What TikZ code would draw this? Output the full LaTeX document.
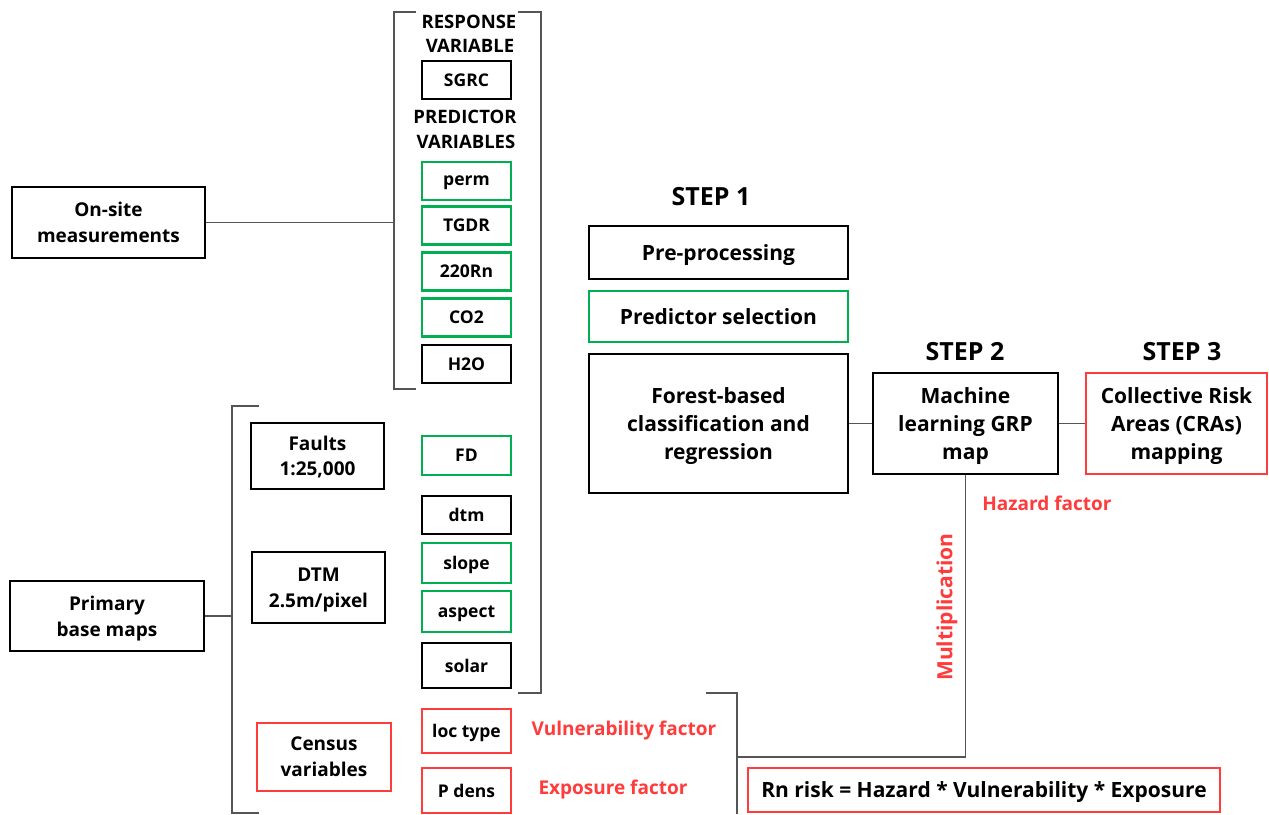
\documentclass[tikz,border=0pt]{standalone}
\usepackage{fontspec}
\setmainfont{Open Sans}
\definecolor{bgreen}{HTML}{00B050}
\definecolor{bred}{HTML}{FF3B3B}
\definecolor{lgray}{HTML}{555555}
\begin{document}
\begin{tikzpicture}[x=1pt,y=-1pt,
  every node/.style={font=\bfseries},
  box/.style={draw=black,line width=2.8pt,inner sep=0pt,align=center,text depth=0pt},
  gbox/.style={draw=bgreen,line width=2.4pt,inner sep=0pt,align=center,text depth=0pt},
  rbox/.style={draw=bred,line width=2pt,inner sep=0pt,align=center,text depth=0pt},
  small/.style={font=\bfseries\fontsize{17.5}{24}\selectfont},
  head/.style={font=\bfseries\fontsize{18.5}{24}\selectfont},
  mid/.style={font=\bfseries\fontsize{19}{26}\selectfont},
  big/.style={font=\bfseries\fontsize{21}{28}\selectfont},
  steptxt/.style={font=\bfseries\fontsize{25}{28}\selectfont},
  redtxt/.style={text=bred,font=\bfseries\fontsize{19}{22}\selectfont},
  conn/.style={draw=lgray,line width=1.1pt},
  vbox/.style={minimum width=89pt}
]
\useasboundingbox (0,0) rectangle (1269,814);
% left boxes
\node[box,mid,minimum width=193pt,minimum height=71pt] (onsite) at (108.5,222.5) {On-site\\measurements};
\node[box,mid,minimum width=194pt,minimum height=70pt] (primary) at (107,616) {Primary\\base maps};
% headings
\node[head] (resp1) at (469,22) {RESPONSE};
\node[head] (resp2) at (470,46) {VARIABLE};
\node[head] (pred1) at (465,117) {PREDICTOR};
\node[head] (pred2) at (466,142) {VARIABLES};
% variable boxes
\node[box,small,vbox,minimum height=38pt,line width=2.2pt] (sgrc) at (466.5,80) {SGRC};
\node[gbox,small,vbox,minimum height=38pt] (perm) at (466.5,181) {perm};
\node[gbox,small,vbox,minimum height=38pt] (tgdr) at (466.5,225.5) {TGDR};
\node[gbox,small,vbox,minimum height=38pt] (rn220) at (466.5,271.5) {220Rn};
\node[gbox,small,vbox,minimum height=38pt] (co2) at (466.5,317.5) {CO2};
\node[box,small,vbox,minimum height=38pt,line width=2.2pt] (h2o) at (466.5,364) {H2O};
\node[gbox,small,vbox,minimum height=39pt] (fd) at (466.5,455.5) {FD};
\node[box,small,vbox,minimum height=38pt,line width=2.2pt] (dtm) at (466.5,515) {dtm};
\node[gbox,small,vbox,minimum height=40pt] (slope) at (466.5,563) {slope};
\node[gbox,small,vbox,minimum height=41pt] (aspect) at (466.5,611.5) {aspect};
\node[box,small,vbox,minimum height=45pt,line width=2.2pt] (solar) at (466.5,665.5) {solar};
\node[rbox,small,vbox,minimum height=44pt,line width=2.4pt] (loctype) at (466.5,731) {loc type};
\node[rbox,small,vbox,minimum height=45pt,line width=2.4pt] (pdens) at (466.5,790.5) {P dens};
% base map boxes
\node[box,mid,minimum width=133pt,minimum height=66pt,line width=2.4pt,font=\bfseries\fontsize{19}{25}\selectfont] (faults) at (317.5,456) {Faults\\1:25,000};
\node[box,mid,minimum width=133pt,minimum height=71pt,line width=2.4pt] (dtmbox) at (318.5,587.5) {DTM\\2.5m/pixel};
\node[rbox,mid,minimum width=134pt,minimum height=68pt,line width=1.6pt] (census) at (324,757) {Census\\variables};
% factor labels
\node[redtxt] (vuln) at (624,731) {Vulnerability factor};
\node[redtxt] (expo) at (613,790) {Exposure factor};
\node[redtxt] (haz) at (1047,503) {Hazard factor};
\node[redtxt,rotate=90,font=\bfseries\fontsize{21}{22}\selectfont] (mult) at (947,607) {Multiplication};
% steps
\node[steptxt] (s1) at (711,197) {STEP 1};
\node[steptxt] (s2) at (965,352) {STEP 2};
\node[steptxt] (s3) at (1182,352) {STEP 3};
\node[box,big,minimum width=259pt,minimum height=53pt] (pre) at (718.5,252.5) {Pre-processing};
\node[gbox,big,minimum width=259pt,minimum height=51pt] (predsel) at (718.5,316.5) {Predictor selection};
\node[box,big,minimum width=259pt,minimum height=139pt] (forest) at (718.5,423.5) {Forest-based\\classification and\\regression};
\node[box,big,minimum width=185pt,minimum height=101pt] (grp) at (965.5,423.5) {Machine\\learning GRP\\map};
\node[rbox,big,minimum width=181pt,minimum height=101pt,line width=2.4pt] (cra) at (1176.5,423.5) {Collective Risk\\Areas (CRAs)\\mapping};
\node[rbox,big,minimum width=472pt,minimum height=44pt,line width=2.6pt] (rn) at (984,790) {Rn risk = Hazard * Vulnerability * Exposure};
% brackets
\coordinate (b1a) at (416,12); \coordinate (b1b) at (394,12);
\coordinate (b1c) at (394,389); \coordinate (b1d) at (416,389);
\coordinate (b1m) at (394,222.5);
\draw[conn] (b1a) -- (b1b) -- (b1c) -- (b1d);
\coordinate (b2a) at (518,12); \coordinate (b2b) at (541,12);
\coordinate (b2c) at (541,693); \coordinate (b2d) at (518,693);
\draw[conn] (b2a) -- (b2b) -- (b2c) -- (b2d);
\coordinate (b3a) at (259,406); \coordinate (b3b) at (232,406);
\coordinate (b3c) at (232,813); \coordinate (b3d) at (259,813);
\coordinate (b3m) at (232,616);
\draw[conn] (b3a) -- (b3b) -- (b3c) -- (b3d);
\coordinate (b4a) at (706,693); \coordinate (b4b) at (737,693);
\coordinate (b4c) at (737,814);
\coordinate (b4m) at (737,757);
\draw[conn] (b4a) -- (b4b) -- (b4c);
% connectors
\draw[conn] (onsite.east) -- (b1m);
\draw[conn] (primary.east) -- (b3m);
\draw[conn] (forest.east) -- (grp.west);
\draw[conn] (grp.east) -- (cra.west);
\draw[conn] (grp.south) |- (b4m);
\end{tikzpicture}
\end{document}
